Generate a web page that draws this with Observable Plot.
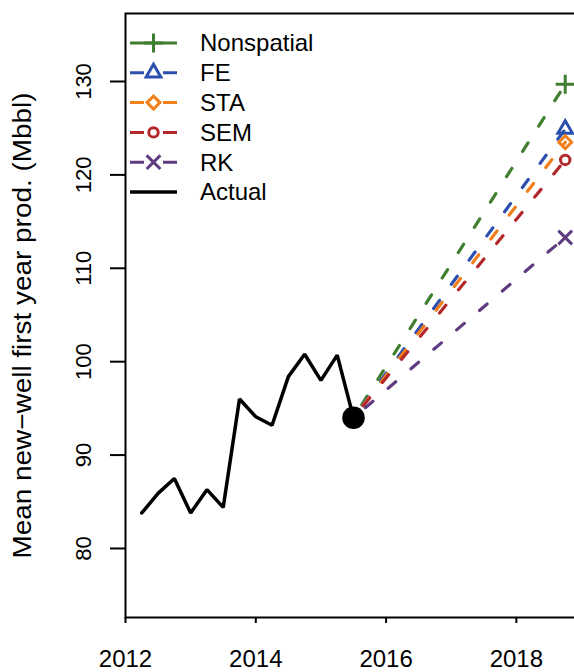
<!DOCTYPE html>
<html><head><meta charset="utf-8">
<script src="https://cdn.jsdelivr.net/npm/d3@7"></script>
<script src="https://cdn.jsdelivr.net/npm/@observablehq/plot@0.6"></script>
<style>
html,body{margin:0;padding:0;overflow:hidden;background:#fff;}
#chart{width:574px;height:672px;overflow:hidden;position:relative;}
#chart svg{display:block;max-width:none !important;width:601px !important;height:672px !important;}
</style></head><body><div id="chart"></div>
<script>
// ---- data ----
const quarters = [2012.25, 2012.5, 2012.75, 2013, 2013.25, 2013.5, 2013.75, 2014, 2014.25, 2014.5, 2014.75, 2015, 2015.25, 2015.5];
const actual   = [83.8, 85.9, 87.5, 83.8, 86.3, 84.4, 96.0, 94.1, 93.2, 98.4, 100.8, 98.0, 100.7, 94.0];
const models        = ["Nonspatial", "FE", "STA", "SEM", "RK"];
const modelColors   = ["#3f7f2f", "#2c4fae", "#f07f1c", "#b3282a", "#5f3c80"];
const modelSymbols  = ["plus", "triangle2", "diamond2", "circle", "times"];
const forecastStartYear = 2015.5;
const forecastStartValue = 94.0;
const forecastEndYear = 2018.75;
const forecastEnd   = [129.7, 124.9, 123.5, 121.6, 113.3];
const xTicks = [2012, 2014, 2016, 2018];
const yTicks = [80, 90, 100, 110, 120, 130];
const yLabel = "Mean new\u2212well first year prod. (Mbbl)";
const legendLabels = ["Nonspatial", "FE", "STA", "SEM", "RK", "Actual"];

// ---- build tables ----
const actualData = quarters.map((q, i) => ({year: q, value: actual[i]}));
const forecastData = models.flatMap((m, i) => [
  {model: m, year: forecastStartYear, value: forecastStartValue},
  {model: m, year: forecastEndYear, value: forecastEnd[i]}
]);
const endData = models.map((m, i) => ({model: m, year: forecastEndYear, value: forecastEnd[i]}));
const symbolR = {plus: 6.2, triangle2: 7.0, diamond2: 5.8, circle: 4.7, times: 6.3};

const marks = [
  Plot.frame({stroke: "black", strokeWidth: 2}),
  Plot.axisX({ticks: xTicks, tickSize: 6, tickPadding: 26, fontSize: 24, tickFormat: d => String(d), label: null, strokeWidth: 2}),
  Plot.axisY({ticks: yTicks, tickSize: 15, tickFormat: () => "", label: null, strokeWidth: 2}),
  Plot.text(yTicks, {y: d => d, text: d => String(d), frameAnchor: "left", dx: -42, rotate: -90, textAnchor: "middle", fontSize: 22}),
  Plot.text([yLabel], {text: d => d, frameAnchor: "left", dx: -103, dy: 10, rotate: -90, textAnchor: "middle", fontSize: 26})
];
models.forEach((m, i) => {
  marks.push(Plot.line(forecastData.filter(d => d.model === m), {
    x: "year", y: "value", stroke: modelColors[i], strokeWidth: 3.2,
    strokeDasharray: "10,20", strokeDashoffset: 14.5, strokeLinecap: "round"
  }));
});
marks.push(Plot.line(actualData, {x: "year", y: "value", stroke: "black", strokeWidth: 3.5, strokeLinejoin: "miter"}));
marks.push(Plot.dot(actualData.slice(-1), {x: "year", y: "value", r: 11.3, fill: "black"}));
models.forEach((m, i) => {
  marks.push(Plot.dot(endData.filter(d => d.model === m), {
    x: "year", y: "value", symbol: modelSymbols[i], r: symbolR[modelSymbols[i]],
    stroke: modelColors[i], strokeWidth: 3, fill: "none"
  }));
});

const chart = Plot.plot({
  width: 601, height: 672,
  marginLeft: 125, marginRight: 20, marginTop: 13, marginBottom: 55,
  x: {domain: [2012, 2019]},
  y: {domain: [72.61, 137.28]},
  style: {fontFamily: "'Liberation Sans', Arial, Helvetica, sans-serif", color: "black", background: "white", overflow: "visible", maxWidth: "none"},
  marks
});
chart.style.maxWidth = "none";
document.getElementById("chart").appendChild(chart);

const svg = d3.select(chart);
svg.selectAll("text").filter(function() { return this.textContent === yLabel; })
  .attr("textLength", 466).attr("lengthAdjust", "spacingAndGlyphs");

// ---- legend ----
const symMap = {plus: d3.symbolPlus, triangle2: d3.symbolTriangle2, diamond2: d3.symbolDiamond2, circle: d3.symbolCircle, times: d3.symbolTimes};
const lg = svg.append("g").attr("font-family", "'Liberation Sans', Arial, Helvetica, sans-serif")
  .attr("font-size", 24).attr("text-anchor", "start");
legendLabels.forEach((lab, i) => {
  const y = 43 + i * 29.8;
  const isModel = i < models.length;
  const color = isModel ? modelColors[i] : "black";
  lg.append("line").attr("x1", 130).attr("x2", 177).attr("y1", y).attr("y2", y)
    .attr("stroke", color).attr("stroke-width", isModel ? 3 : 3.5);
  if (isModel) {
    const s = modelSymbols[i];
    if (s !== "plus") {
      lg.append("rect").attr("x", 144).attr("y", y - 10).attr("width", 19).attr("height", 20).attr("fill", "white");
    }
    const r = symbolR[s];
    lg.append("path").attr("d", d3.symbol(symMap[s], Math.PI * r * r)())
      .attr("transform", `translate(153.5,${y})`)
      .attr("fill", "white").attr("stroke", color).attr("stroke-width", 3);
  }
  lg.append("text").attr("x", 200).attr("y", y).attr("dy", "0.35em")
    .attr("text-anchor", "start").attr("fill", "black").text(lab);
});
</script>
</body></html>
